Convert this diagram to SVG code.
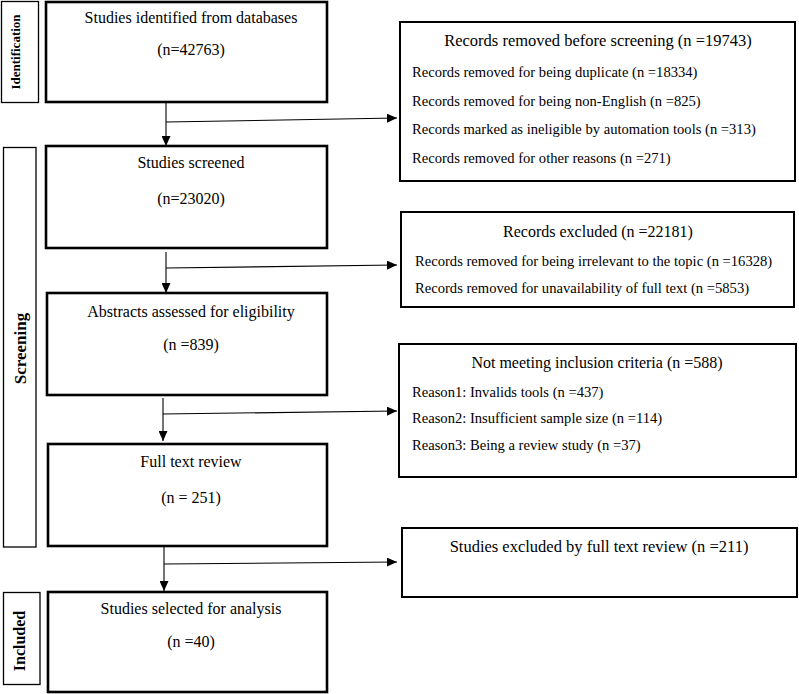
<svg xmlns="http://www.w3.org/2000/svg" width="799" height="694" viewBox="0 0 799 694">
<style>
text{font-family:"Liberation Serif","Times New Roman",serif;fill:#000}
.lab{fill:#fff;stroke:#000;stroke-width:1.3}
.main{fill:#fff;stroke:#000;stroke-width:2.6}
.side{fill:#fff;stroke:#000;stroke-width:2}
.lt{font-weight:bold;text-anchor:middle}
.c{text-anchor:middle;font-size:16px}
.t{text-anchor:middle;font-size:16.5px}
.l{font-size:14.6px}
.conn line{stroke:#000;stroke-width:1.1}
</style>
<defs>
<marker id="ah" viewBox="0 0 10 9" refX="10" refY="4.5" markerWidth="10" markerHeight="9" markerUnits="userSpaceOnUse" orient="auto">
<path d="M0,0 L10,4.5 L0,9 z" fill="#000"/>
</marker>
</defs>
<rect width="799" height="694" fill="#fff"/>

<g id="label-identification">
<rect class="lab" x="1.5" y="1.5" width="37" height="101"/>
<text class="lt" font-size="13" transform="translate(20,52) rotate(-90)">Identification</text>
</g>
<g id="label-screening">
<rect class="lab" x="3.5" y="147.5" width="32.5" height="399.5"/>
<text class="lt" font-size="17" transform="translate(26,348.5) rotate(-90)">Screening</text>
</g>
<g id="label-included">
<rect class="lab" x="3.5" y="592.5" width="36.5" height="92"/>
<text class="lt" font-size="16" transform="translate(24.5,641) rotate(-90)">Included</text>
</g>

<g id="identified">
<rect class="main" x="46" y="2" width="281" height="100"/>
<text class="c" x="191" y="23" font-size="15">Studies identified from databases</text>
<text class="c" x="191" y="55" font-size="15">(n=42763)</text>
</g>
<g id="screened">
<rect class="main" x="46" y="146" width="281" height="102"/>
<text class="c" x="191" y="168">Studies screened</text>
<text class="c" x="191" y="204">(n=23020)</text>
</g>
<g id="abstracts">
<rect class="main" x="47" y="293" width="280" height="102"/>
<text class="c" x="191" y="317">Abstracts assessed for eligibility</text>
<text class="c" x="191" y="350">(n =839)</text>
</g>
<g id="fulltext">
<rect class="main" x="48" y="444" width="279" height="102"/>
<text class="c" x="191" y="467">Full text review</text>
<text class="c" x="191" y="503">(n = 251)</text>
</g>
<g id="selected">
<rect class="main" x="48" y="592" width="279" height="100"/>
<text class="c" x="191" y="614">Studies selected for analysis</text>
<text class="c" x="191" y="647">(n =40)</text>
</g>

<g id="removed">
<rect class="side" x="400" y="22" width="395" height="159"/>
<text class="t" x="598" y="46">Records removed before screening (n =19743)</text>
<text class="l" x="412" y="77">Records removed for being duplicate (n =18334)</text>
<text class="l" x="412" y="106">Records removed for being non-English (n =825)</text>
<text class="l" x="412" y="134">Records marked as ineligible by automation tools (n =313)</text>
<text class="l" x="412" y="163">Records removed for other reasons (n =271)</text>
</g>
<g id="excluded">
<rect class="side" x="401" y="212" width="393" height="95"/>
<text class="c" x="598" y="237">Records excluded (n =22181)</text>
<text class="l" x="415" y="266">Records removed for being irrelevant to the topic (n =16328)</text>
<text class="l" x="415" y="293">Records removed for unavailability of full text (n =5853)</text>
</g>
<g id="notmeeting">
<rect class="side" x="399" y="344" width="397" height="133"/>
<text class="c" x="597" y="368">Not meeting inclusion criteria (n =588)</text>
<text class="l" x="412" y="397">Reason1: Invalids tools (n =437)</text>
<text class="l" x="412" y="423">Reason2: Insufficient sample size (n =114)</text>
<text class="l" x="412" y="450">Reason3: Being a review study (n =37)</text>
</g>
<g id="fulltextexcluded">
<rect class="side" x="402" y="528" width="395" height="69"/>
<text class="t" x="599" y="552">Studies excluded by full text review (n =211)</text>
</g>

<g id="connectors" class="conn">
<line x1="166" y1="103" x2="166" y2="146" marker-end="url(#ah)"/>
<line x1="166" y1="122" x2="397" y2="118" marker-end="url(#ah)"/>
<line x1="166" y1="252" x2="166" y2="293" marker-end="url(#ah)"/>
<line x1="166" y1="268" x2="397" y2="265" marker-end="url(#ah)"/>
<line x1="163" y1="398" x2="163" y2="441" marker-end="url(#ah)"/>
<line x1="163" y1="414" x2="397" y2="411" marker-end="url(#ah)"/>
<line x1="164" y1="547" x2="164" y2="591" marker-end="url(#ah)"/>
<line x1="164" y1="564" x2="397" y2="562" marker-end="url(#ah)"/>
</g>
</svg>
